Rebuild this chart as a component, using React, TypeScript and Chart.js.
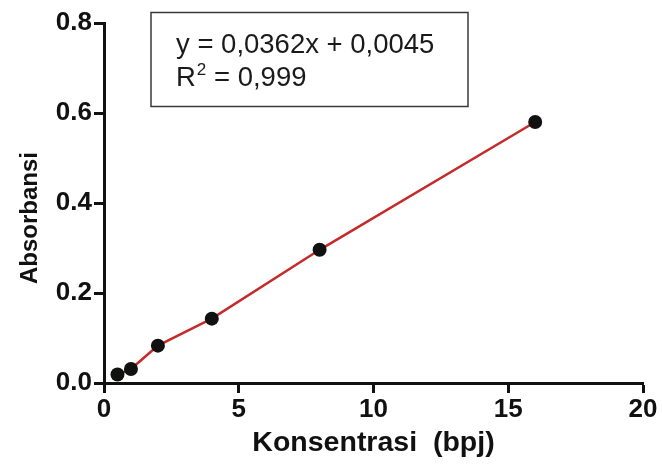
import React, { useEffect, useRef } from "react";
import { Chart, registerables } from "chart.js";

Chart.register(...registerables);

const concentrations = [0.5, 1, 2, 4, 8, 16];
const absorbances = [0.019, 0.031, 0.083, 0.143, 0.296, 0.58];
const xTicks = [0, 5, 10, 15, 20];
const yTicks = [0, 0.2, 0.4, 0.6, 0.8];
const equationLines = ["y = 0,0362x + 0,0045", "R", "2", " = 0,999"];
const xTitle = "Konsentrasi  (bpj)";
const yTitle = "Absorbansi";

const FONT = "'Liberation Sans', Arial, sans-serif";

const annotationPlugin = {
  id: "annot",
  afterDraw(chart: any) {
    const ctx = chart.ctx;
    const area = chart.chartArea;
    ctx.save();
    // equation box
    ctx.strokeStyle = "#3a3a3a";
    ctx.lineWidth = 1.5;
    ctx.strokeRect(151, 12.5, 317, 94);
    ctx.fillStyle = "#1a1a1a";
    ctx.font = `27.5px ${FONT}`;
    ctx.textBaseline = "middle";
    ctx.textAlign = "left";
    ctx.fillText(equationLines[0], 176, 45);
    ctx.fillText(equationLines[1], 176, 78);
    const rw = ctx.measureText(equationLines[1]).width;
    ctx.font = `17px ${FONT}`;
    ctx.fillText(equationLines[2], 176 + rw + 1, 70);
    const sw = ctx.measureText(equationLines[2]).width;
    ctx.font = `27.5px ${FONT}`;
    ctx.fillText(equationLines[3], 176 + rw + sw + 1, 78);
    // axis titles
    ctx.font = `bold 28.5px ${FONT}`;
    ctx.textAlign = "center";
    ctx.fillStyle = "#111";
    ctx.fillText(xTitle, (area.left + area.right) / 2, 443);
    ctx.translate(30, 218);
    ctx.rotate(-Math.PI / 2);
    ctx.font = `bold 24px ${FONT}`;
    ctx.fillText(yTitle, 0, 0);
    ctx.restore();
  },
};

export default function App() {
  const ref = useRef<HTMLCanvasElement>(null);
  useEffect(() => {
    if (!ref.current) return;
    const chart = new Chart(ref.current, {
      type: "line",
      data: {
        datasets: [
          {
            data: concentrations.map((x, i) => ({ x, y: absorbances[i] })),
            borderColor: "#c62a2a",
            borderWidth: 2.5,
            pointRadius: 7,
            pointBackgroundColor: "#111",
            pointBorderColor: "#111",
            pointBorderWidth: 0,
            tension: 0,
          },
        ],
      },
      plugins: [annotationPlugin],
      options: {
        responsive: false,
        animation: false,
        layout: { padding: { top: 23, right: 19, left: 0, bottom: 0 } },
        plugins: { legend: { display: false }, tooltip: { enabled: false } },
        scales: {
          x: {
            type: "linear",
            min: 0,
            max: 20,
            afterBuildTicks: (s: any) => {
              s.ticks = xTicks.map((v) => ({ value: v }));
            },
            afterFit: (s: any) => {
              s.height = 472 - 383;
            },
            border: { display: true, color: "#111", width: 3 },
            grid: {
              display: true,
              drawOnChartArea: false,
              drawTicks: true,
              tickLength: 10,
              tickWidth: 3,
              tickColor: "#111",
            },
            ticks: {
              color: "#111",
              font: { family: FONT, size: 26, weight: "bold" },
              padding: 1,
              callback: (v: any) => String(v),
            },
          },
          y: {
            type: "linear",
            min: 0,
            max: 0.8,
            afterBuildTicks: (s: any) => {
              s.ticks = yTicks.map((v) => ({ value: v }));
            },
            afterFit: (s: any) => {
              s.width = 104;
            },
            border: { display: true, color: "#111", width: 3 },
            grid: {
              display: true,
              drawOnChartArea: false,
              drawTicks: true,
              tickLength: 10,
              tickWidth: 3,
              tickColor: "#111",
            },
            ticks: {
              color: "#111",
              font: { family: FONT, size: 26, weight: "bold" },
              padding: 2,
              callback: (v: any) => Number(v).toFixed(1),
            },
          },
        },
      },
    } as any);
    return () => chart.destroy();
  }, []);
  return (
    <div style={{ position: "absolute", left: 0, top: 0, width: 662, height: 472, background: "#fff" }}>
      <canvas ref={ref} width={662} height={472} />
    </div>
  );
}
